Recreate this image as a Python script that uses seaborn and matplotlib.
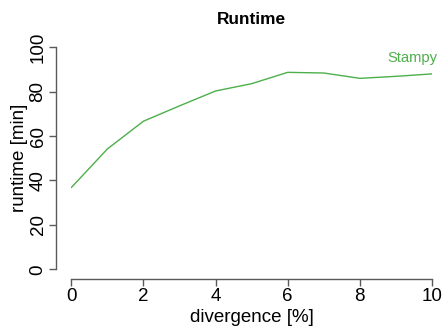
import matplotlib
matplotlib.use("Agg")
import matplotlib.pyplot as plt
import pandas as pd
import seaborn as sns

divergence = [0, 1, 2, 3, 4, 5, 6, 7, 8, 9, 10]
runtime = [36.8, 54.2, 66.7, 73.6, 80.3, 83.6, 88.7, 88.4, 86.0, 86.9, 88.0]
series_name = "Stampy"
x_ticks = [0, 2, 4, 6, 8, 10]
y_ticks = [0, 20, 40, 60, 80, 100]

df = pd.DataFrame({"divergence": divergence, "runtime": runtime})

sns.set_theme(style="ticks")
plt.rcParams["font.family"] = ["Liberation Sans", "DejaVu Sans"]
plt.rcParams["text.color"] = "black"
plt.rcParams["axes.labelcolor"] = "black"

green = "#4daf4a"
axis_grey = "#5a5a5a"
fs = 13.5

fig = plt.figure(figsize=(4.44, 3.27), dpi=100)
ax = fig.add_axes([0.1606, 0.1765, 0.8124, 0.679])

sns.lineplot(data=df, x="divergence", y="runtime", color=green, linewidth=1.0, ax=ax)
ax.text(10.15, 95, series_name, color=green, fontsize=10.6, ha="right", va="center")

ax.set_xlim(0, 10)
ax.set_ylim(0, 100)
ax.set_xticks(x_ticks)
ax.set_yticks(y_ticks)

sns.despine(ax=ax)
ax.spines["left"].set_position(("outward", 10.8))
ax.spines["bottom"].set_position(("outward", 6.8))
for s in ("left", "bottom"):
    ax.spines[s].set_color(axis_grey)
    ax.spines[s].set_linewidth(1.0)
ax.tick_params(axis="both", length=5, width=1.0, color=axis_grey,
               labelsize=fs, labelcolor="black", pad=2)
ax.tick_params(axis="y", labelrotation=90)
for lab in ax.get_yticklabels():
    lab.set_verticalalignment("center")

ax.set_xlabel("divergence [%]", fontsize=fs, labelpad=2.5)
ax.set_ylabel("runtime [min]", fontsize=fs, labelpad=1.5)
ax.set_title("Runtime", fontsize=12.4, fontweight="bold", pad=17, color="black")

fig.savefig("out.png", dpi=100)
